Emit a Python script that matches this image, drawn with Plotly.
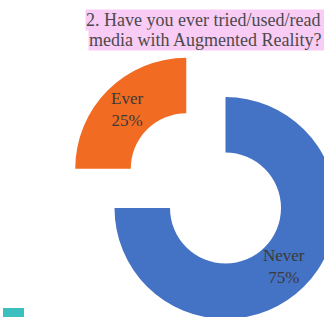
import math
import plotly.graph_objects as go

labels = ["Never", "Ever"]
values = [75, 25]
colors = ["#4472C4", "#F26B22"]
pulls = [0, 0.5]
title_lines = ["2. Have you ever tried/used/read", "media with Augmented Reality?"]

W, H = 400, 380
CX, CY, R, HOLE = 225.5, 208.0, 111.0, 0.5  # pie geometry in pixels

fig = go.Figure(go.Pie(
    labels=labels, values=values, sort=False, direction="clockwise", rotation=0,
    hole=HOLE, pull=pulls,
    marker=dict(colors=colors, line=dict(width=0)),
    textinfo="none",
    domain=dict(x=[(CX - 1.5 * R) / W, (CX + 1.5 * R) / W],
                y=[1 - (CY + 1.5 * R) / H, 1 - (CY - 1.5 * R) / H]),
    showlegend=False, hoverinfo="label+percent",
))

# slice labels placed at the middle of each ring segment (derived from the data)
total = sum(values)
cum = 0
for lab, v, p in zip(labels, values, pulls):
    mid = (cum + v / 2) / total
    cum += v
    th = 2 * math.pi * mid
    rr = R * (1 + HOLE) / 2 + p * R
    px = CX + rr * math.sin(th)
    py = CY - rr * math.cos(th)
    fig.add_annotation(text=f"{lab}<br>{round(100 * v / total)}%", xref="paper", yref="paper",
                       x=px / W, y=1 - py / H, xanchor="center", yanchor="middle",
                       showarrow=False,
                       font=dict(family="Liberation Serif", size=17, color="#3a3a3a"))

fig.add_annotation(text=title_lines[0], xref="paper", yref="paper",
                   x=85 / W, y=1 - 9 / H, xanchor="left", yanchor="top",
                   width=310, align="left", showarrow=False, bgcolor="#F9CCF6",
                   borderpad=0, font=dict(family="Liberation Serif", size=18, color="#4a4a4a"))
fig.add_annotation(text=title_lines[1], xref="paper", yref="paper",
                   x=88 / W, y=1 - 29 / H, xanchor="left", yanchor="top",
                   width=310, align="left", showarrow=False, bgcolor="#F9CCF6",
                   borderpad=0, font=dict(family="Liberation Serif", size=18, color="#4a4a4a"))

fig.add_shape(type="rect", xref="paper", yref="paper",
              x0=3 / W, x1=24 / W, y0=1 - 330 / H, y1=1 - 308 / H,
              fillcolor="#3BBFBF", line=dict(width=0))

fig.update_layout(width=W, height=H, margin=dict(l=0, r=0, t=0, b=0),
                  paper_bgcolor="white", plot_bgcolor="white")

fig.write_html("out.html", post_script="document.body.style.margin='0';document.body.style.overflow='hidden';document.documentElement.style.overflow='hidden';")
